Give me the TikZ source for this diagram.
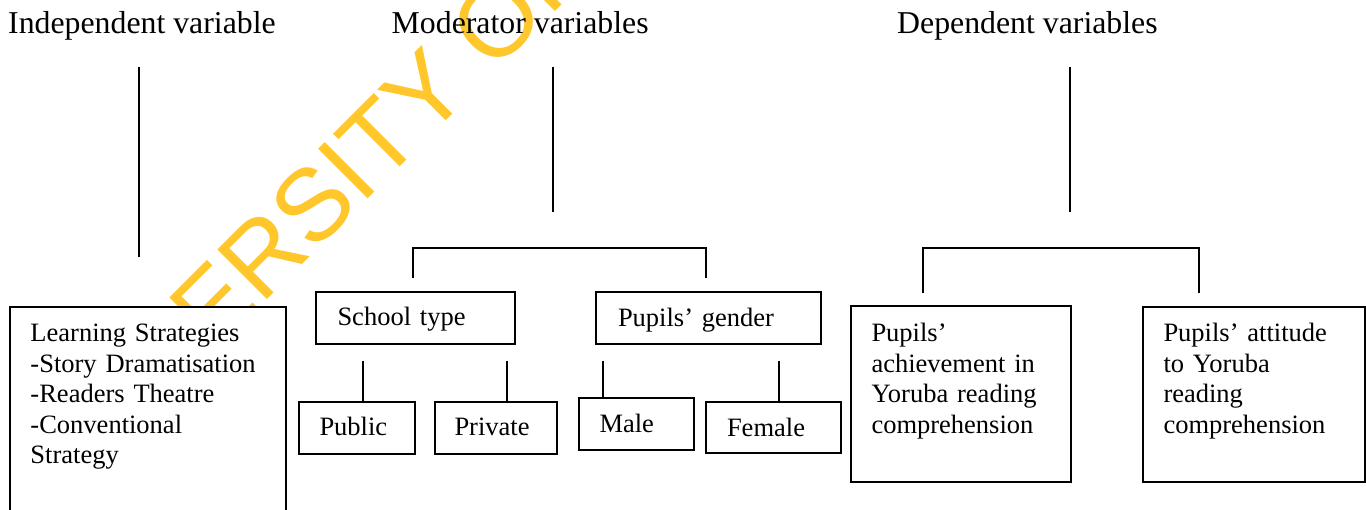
\documentclass[tikz,border=0pt]{standalone}
\usepackage{xcolor}
\usepackage{fontspec}
\setmainfont{Liberation Serif}
\newfontfamily\wmfont{Liberation Sans}
\usepackage{tikz}
\usetikzlibrary{positioning}
\definecolor{wmyellow}{RGB}{255,199,44}
\newcommand{\boxfont}{\fontsize{26.5}{30.4}\selectfont}
\newcommand{\headfont}{\fontsize{31.8}{36}\selectfont}
\tikzstyle{heading} = [anchor=base west, inner sep=0pt, font=\headfont]
\tikzstyle{varbox} = [rectangle, draw=black, line width=2pt, fill=white, anchor=north west, align=left, inner ysep=0pt, font=\boxfont]
\tikzstyle{link} = [line width=2pt]
\tikzstyle{stamp} = [anchor=base west, inner sep=0pt, text=wmyellow, font=\wmfont\fontsize{102}{102}\selectfont, rotate=45]

\begin{document}
\begin{tikzpicture}[x=1pt, y=-1pt]
            \clip (0,0) rectangle (1366,510);
            % Watermark
            \node[stamp] (wm) at (213,354) {ERSITY OF};

            % Headings
            \node[heading] (indep) at (8,33.5) {Independent variable};
            \node[heading] (moder) at (391.5,33.5) {Moderator variables};
            \node[heading] (depen) at (897,33.5) {Dependent variables};

            % Independent variable
            \node[varbox, text width=235pt, inner xsep=20.5pt, text height=35pt, text depth=189pt] (learn) at (9,306) {Learning Strategies\\-Story Dramatisation\\-Readers Theatre\\-Conventional\\Strategy};

            % Moderator variables
            \node[varbox, text width=156pt, inner xsep=21.5pt, text height=34pt, text depth=18pt] (school) at (315,291) {School type};
            \node[varbox, text width=181pt, inner xsep=22pt, text height=35pt, text depth=17pt] (gender) at (595,291) {Pupils’ gender};
            \node[varbox, text width=74pt, inner xsep=21pt, text height=34pt, text depth=18.5pt] (public) at (297.5,401) {Public};
            \node[varbox, text width=82.5pt, inner xsep=20pt, text height=34pt, text depth=18.5pt] (private) at (433.5,401) {Private};
            \node[varbox, text width=73.5pt, inner xsep=21pt, text height=35pt, text depth=17pt] (male) at (577.5,397) {Male};
            \node[varbox, text width=92.5pt, inner xsep=21pt, text height=35pt, text depth=16.5pt] (female) at (705,401) {Female};

            % Dependent variables
            \node[varbox, text width=178.5pt, inner xsep=21pt, text height=35.5pt, text depth=140pt] (achieve) at (849.5,305.5) {Pupils’\\achievement in\\Yoruba reading\\comprehension};
            \node[varbox, text width=181pt, inner xsep=20.5pt, text height=35pt, text depth=140pt] (attitude) at (1142,306) {Pupils’ attitude\\to Yoruba\\reading\\comprehension};

            % Lines under headings
            \coordinate (indtop) at (139,67);
            \coordinate (indbot) at (139,257);
            \coordinate (modtop) at (553,67);
            \coordinate (modbot) at (553,212);
            \coordinate (deptop) at (1070,67);
            \coordinate (depbot) at (1070,212);
            \draw[link] (indtop) -- (indbot);
            \draw[link] (modtop) -- (modbot);
            \draw[link] (deptop) -- (depbot);

            % Brackets
            \coordinate (modleft) at (413,278);
            \coordinate (modright) at (706,278);
            \coordinate (depleft) at (922.5,293);
            \coordinate (depright) at (1199,293);
            \draw[link] (modleft) -- ++(0,-30) -| (modright);
            \draw[link] (depleft) -- ++(0,-44.5) -| (depright);

            % Stubs to the sub-boxes
            \coordinate (pubtop) at (363,361);
            \coordinate (pritop) at (507,361);
            \coordinate (maltop) at (603,361);
            \coordinate (femtop) at (779,361);
            \draw[link] (pubtop) -- (pubtop |- public.north);
            \draw[link] (pritop) -- (pritop |- private.north);
            \draw[link] (maltop) -- (maltop |- male.north);
            \draw[link] (femtop) -- (femtop |- female.north);
        \end{tikzpicture}
\end{document}
